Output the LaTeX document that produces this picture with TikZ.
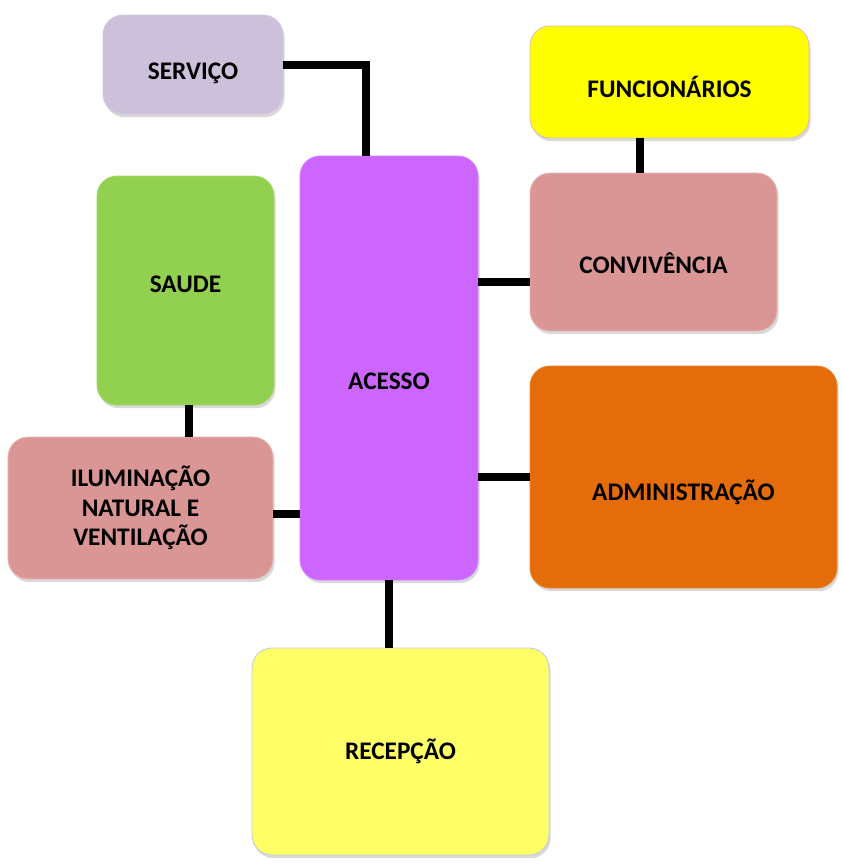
\documentclass[tikz,border=0pt]{standalone}
\usepackage{fontspec}
\setmainfont{Carlito}
\usepackage{xcolor}
\usepackage{tikz}
\usetikzlibrary{shadows,positioning}

\definecolor{servicocol}{HTML}{CCC0DA}
\definecolor{funccol}{HTML}{FFFF00}
\definecolor{convcol}{HTML}{D99694}
\definecolor{saudecol}{HTML}{92D050}
\definecolor{acessocol}{HTML}{CC66FF}
\definecolor{admincol}{HTML}{E46C0A}
\definecolor{recepcol}{HTML}{FFFF66}
\definecolor{pinkedge}{HTML}{E6B9B8}
\definecolor{blueedge}{HTML}{B9CDE5}

% text moved down inside its box, box size kept
\newcommand{\sunk}[2]{\raisebox{-#1}[\height][\depth]{#2}}

\tikzset{
    area/.style={rounded corners=0.5cm, draw=#1!85!white, fill=#1, line width=0.6pt,
        align=center, inner sep=0pt,
        font=\fontsize{18}{21}\selectfont\bfseries,
        drop shadow={opacity=0.3, shadow xshift=0.04cm, shadow yshift=-0.08cm}},
    link/.style={line width=0.2cm, black}
}

\begin{document}
\begin{tikzpicture}
    \useasboundingbox (0,0) rectangle (21.075,-21.675);

    % Areas
    \node[area=servicocol, minimum width=4.5cm, minimum height=2.475cm] (servico) at (4.825,-1.6125) {\sunk{0.225cm}{SERVIÇO}};
    \node[area=funccol, draw=pinkedge, minimum width=6.975cm, minimum height=2.8cm] (func) at (16.7375,-2.05) {\sunk{0.125cm}{FUNCIONÁRIOS}};
    \node[area=convcol, draw=pinkedge, minimum width=6.175cm, minimum height=3.95cm] (conv) at (16.3375,-6.3) {\sunk{0.275cm}{CONVIVÊNCIA}};
    \node[area=saudecol, minimum width=4.425cm, minimum height=5.725cm] (saude) at (4.6375,-7.2625) {\sunk{-0.15cm}{SAUDE}};
    \node[area=acessocol, minimum width=4.45cm, minimum height=10.6cm] (acesso) at (9.725,-9.2) {\sunk{0.325cm}{ACESSO}};
    \node[area=admincol, minimum width=7.675cm, minimum height=5.55cm] (admin) at (17.0875,-11.925) {\sunk{0.375cm}{ADMINISTRAÇÃO}};
    \node[area=convcol, draw=pinkedge, minimum width=6.625cm, minimum height=3.55cm] (ilum) at (3.5125,-12.7) {ILUMINAÇÃO\\NATURAL E\\VENTILAÇÃO};
    \node[area=recepcol, draw=blueedge, minimum width=7.425cm, minimum height=5.175cm] (recep) at (10.0125,-18.7875) {RECEPÇÃO};

    % Links
    \draw[link] (servico.east) -| ([xshift=-0.575cm]acesso.north);
    \draw[link] ([xshift=-0.34cm]conv.north) -- ([xshift=-0.34cm]conv.north |- func.south);
    \draw[link] ([yshift=-0.75cm]conv.west) -- ([yshift=-0.75cm]conv.west -| acesso.east);
    \draw[link] (admin.west) -- (admin.west -| acesso.east);
    \draw[link] ([xshift=0.08cm]saude.south) -- ([xshift=0.08cm]saude.south |- ilum.north);
    \draw[link] ([yshift=-0.15cm]ilum.east) -- ([yshift=-0.15cm]ilum.east -| acesso.west);
    \draw[link] (acesso.south) -- (acesso.south |- recep.north);
\end{tikzpicture}
\end{document}
